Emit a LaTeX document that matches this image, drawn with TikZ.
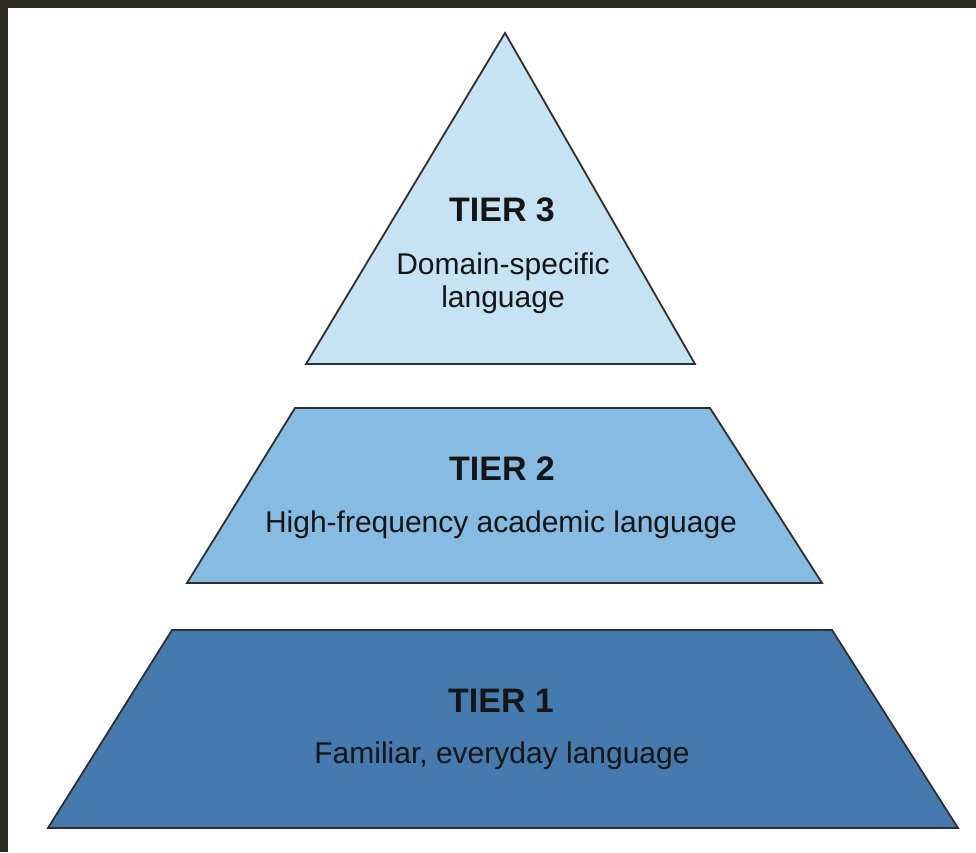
\documentclass[tikz,border=0pt]{standalone}
\usepackage{fontspec}
\setmainfont{Liberation Sans}
\definecolor{frameC}{HTML}{2D2A20}
\definecolor{tierA}{HTML}{C5E3F3}
\definecolor{tierB}{HTML}{86BCE1}
\definecolor{tierC}{HTML}{457AAE}
\definecolor{edgeC}{HTML}{2E2E2E}
\definecolor{textC}{HTML}{151515}
\begin{document}
\begin{tikzpicture}[x=1pt,y=-1pt,
  tierline/.style={draw=edgeC, line width=1.8pt, line join=miter},
  headtxt/.style={anchor=base, inner sep=0pt, text=textC, font=\fontsize{34}{34}\selectfont\bfseries},
  bodytxt/.style={anchor=base, inner sep=0pt, text=textC, font=\fontsize{30}{34}\selectfont}]
\useasboundingbox (0,0) rectangle (976,852);
\fill[white] (0,0) rectangle (976,852);
\fill[frameC] (0,0) rectangle (976,8);
\fill[frameC] (0,0) rectangle (8,852);
% tier 3
\path[tierline, fill=tierA] (505,33) -- (695,364) -- (306,364) -- cycle;
% tier 2
\path[tierline, fill=tierB] (295,408) -- (710,408) -- (822,583) -- (187,583) -- cycle;
% tier 1
\path[tierline, fill=tierC] (172,630) -- (832,630) -- (958,828) -- (48,828) -- cycle;
% texts
\node[headtxt] (h3) at (502,221) {TIER 3};
\node[bodytxt] (b3a) at (503,274) {Domain-specific};
\node[bodytxt] (b3b) at (503,307) {language};
\node[headtxt] (h2) at (502,480) {TIER 2};
\node[bodytxt] (b2) at (501,532) {High-frequency academic language};
\node[headtxt] (h1) at (501,712) {TIER 1};
\node[bodytxt] (b1) at (502,763) {Familiar, everyday language};
\end{tikzpicture}
\end{document}
